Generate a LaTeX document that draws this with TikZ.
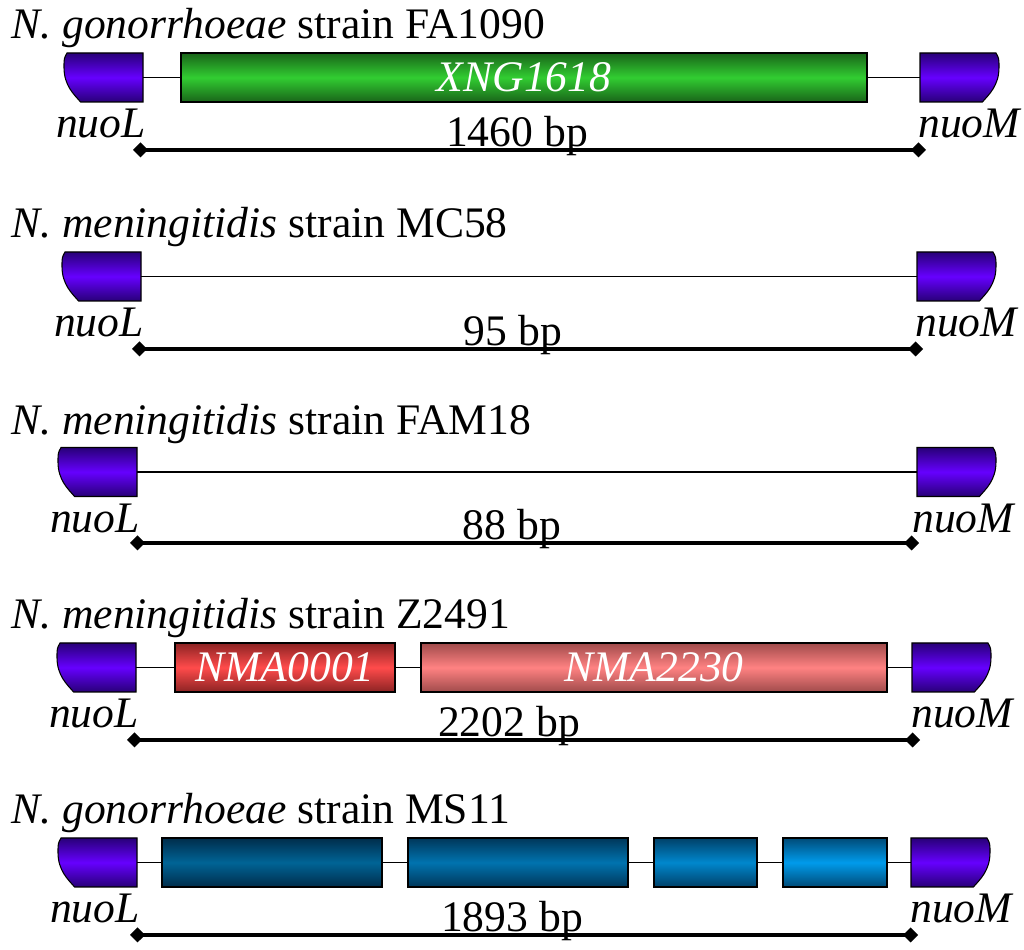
\documentclass[tikz,border=0pt]{standalone}
\usepackage{fontspec}
\setmainfont{Liberation Serif}
\usetikzlibrary{arrows.meta}

\definecolor{nuodark}{RGB}{40,0,120}
\definecolor{nuolight}{RGB}{102,0,255}
\definecolor{xngdark}{RGB}{25,100,25}
\definecolor{xnglight}{RGB}{50,205,50}
\definecolor{nmaAdark}{RGB}{140,35,35}
\definecolor{nmaAlight}{RGB}{255,75,75}
\definecolor{nmaBdark}{RGB}{160,75,75}
\definecolor{nmaBlight}{RGB}{255,130,130}
\definecolor{msAdark}{RGB}{0,45,75}
\definecolor{msAlight}{RGB}{0,100,150}
\definecolor{msBdark}{RGB}{0,55,90}
\definecolor{msBlight}{RGB}{0,115,175}
\definecolor{msCdark}{RGB}{0,65,105}
\definecolor{msClight}{RGB}{0,135,205}
\definecolor{msDdark}{RGB}{0,75,120}
\definecolor{msDlight}{RGB}{0,155,235}

\tikzset{
  txt/.style={font=\fontsize{24.8}{29}\selectfont, inner sep=0pt},
  strain/.style={txt, anchor=base west},
  locus/.style={txt, font=\fontsize{24.8}{29}\selectfont\itshape},
  bplabel/.style={txt, anchor=base},
  gene/.style={draw=black, line width=0.8pt, minimum height=0.98cm, inner sep=0pt,
    text=white, font=\fontsize{24.8}{29}\selectfont\itshape},
  shadeit/.style n args={2}{top color=#1, bottom color=#1, middle color=#2},
  link/.style={line width=0.8pt},
  span/.style={line width=2.2pt,
    {Diamond[length=0.3cm,width=0.3cm]}-{Diamond[length=0.3cm,width=0.3cm]}},
}

% nuoL: name, x of right edge, y of middle
\newcommand{\nuoLgene}[3]{%
  \shadedraw[shadeit={nuodark}{nuolight}, line width=0.6pt]
    (#2-6.24,#3-2.45) .. controls (#2-6.9,#3-1.7) and (#2-7.9,#3-0.8) .. (#2-7.9,#3+1.0)
    .. controls (#2-7.9,#3+1.9) .. (#2-7.6,#3+2.45) -- (#2,#3+2.45) -- (#2,#3-2.45) -- cycle;
  \coordinate (#1) at (#2,#3);}
% nuoM: name, x of left edge, y of middle
\newcommand{\nuoMgene}[3]{%
  \shadedraw[shadeit={nuodark}{nuolight}, line width=0.6pt]
    (#2+6.24,#3-2.45) .. controls (#2+6.9,#3-1.7) and (#2+7.9,#3-0.8) .. (#2+7.9,#3+1.0)
    .. controls (#2+7.9,#3+1.9) .. (#2+7.6,#3+2.45) -- (#2,#3+2.45) -- (#2,#3-2.45) -- cycle;
  \coordinate (#1) at (#2,#3);}

\begin{document}
\begin{tikzpicture}[x=0.2cm,y=0.2cm]
\fill [white] (0,0) rectangle (102.4,-95);
\useasboundingbox (0,0) rectangle (102.4,-95);
% FA1090
\node [strain] (t1) at (1.1,-3.9) {\textit{N. gonorrhoeae} strain FA1090};
\nuoLgene{L1}{14.3}{-7.75}
\nuoMgene{M1}{92.0}{-7.75}
\node [gene, shadeit={xngdark}{xnglight}, minimum width=13.72cm] (xng) at (52.4,-7.75) {XNG1618};
\draw [link] (L1) -- (xng);
\draw [link] (xng) -- (M1);
\node [locus, anchor=base east] (l1) at (14.6,-13.8) {nuoL};
\node [locus, anchor=base west] (m1) at (91.8,-13.8) {nuoM};
\coordinate (s1a) at (13.3,-15.0);
\coordinate (s1b) at (92.6,-15.0);
\draw [span] (s1a) -- (s1b);
\node [bplabel] (bp1) at (51.7,-14.7) {1460 bp};
% MC58
\node [strain] (t2) at (1.1,-23.8) {\textit{N. meningitidis} strain MC58};
\nuoLgene{L2}{14.1}{-27.65}
\nuoMgene{M2}{91.7}{-27.65}
\draw [link] (L2) -- (M2);
\node [locus, anchor=base east] (l2) at (14.4,-33.7) {nuoL};
\node [locus, anchor=base west] (m2) at (91.5,-33.7) {nuoM};
\coordinate (s2a) at (13.2,-34.9);
\coordinate (s2b) at (92.3,-34.9);
\draw [span] (s2a) -- (s2b);
\node [bplabel] (bp2) at (51.3,-34.6) {95 bp};
% FAM18
\node [strain] (t3) at (1.1,-43.5) {\textit{N. meningitidis} strain FAM18};
\nuoLgene{L3}{13.7}{-47.2}
\nuoMgene{M3}{91.7}{-47.2}
\draw [link] (L3) -- (M3);
\node [locus, anchor=base east] (l3) at (14.0,-53.3) {nuoL};
\node [locus, anchor=base west] (m3) at (91.2,-53.3) {nuoM};
\coordinate (s3a) at (13.0,-54.3);
\coordinate (s3b) at (91.9,-54.3);
\draw [span] (s3a) -- (s3b);
\node [bplabel] (bp3) at (51.2,-54.0) {88 bp};
% Z2491
\node [strain] (t4) at (1.1,-62.9) {\textit{N. meningitidis} strain Z2491};
\nuoLgene{L4}{13.6}{-66.75}
\nuoMgene{M4}{91.2}{-66.75}
\node [gene, shadeit={nmaAdark}{nmaAlight}, minimum width=4.4cm] (nmaA) at (28.5,-66.75) {NMA0001};
\node [gene, shadeit={nmaBdark}{nmaBlight}, minimum width=9.32cm] (nmaB) at (65.4,-66.75) {NMA2230};
\draw [link] (L4) -- (nmaA);
\draw [link] (nmaA) -- (nmaB);
\draw [link] (nmaB) -- (M4);
\node [locus, anchor=base east] (l4) at (13.9,-72.8) {nuoL};
\node [locus, anchor=base west] (m4) at (91.1,-72.8) {nuoM};
\coordinate (s4a) at (12.7,-74.0);
\coordinate (s4b) at (92.0,-74.0);
\draw [span] (s4a) -- (s4b);
\node [bplabel] (bp4) at (50.9,-73.7) {2202 bp};
% MS11
\node [strain] (t5) at (1.1,-82.4) {\textit{N. gonorrhoeae} strain MS11};
\nuoLgene{L5}{13.7}{-86.25}
\nuoMgene{M5}{91.1}{-86.25}
\node [gene, shadeit={msAdark}{msAlight}, minimum width=4.4cm] (msA) at (27.2,-86.25) {};
\node [gene, shadeit={msBdark}{msBlight}, minimum width=4.4cm] (msB) at (51.8,-86.25) {};
\node [gene, shadeit={msCdark}{msClight}, minimum width=2.06cm] (msC) at (70.55,-86.25) {};
\node [gene, shadeit={msDdark}{msDlight}, minimum width=2.08cm] (msD) at (83.5,-86.25) {};
\draw [link] (L5) -- (msA);
\draw [link] (msA) -- (msB);
\draw [link] (msB) -- (msC);
\draw [link] (msC) -- (msD);
\draw [link] (msD) -- (M5);
\node [locus, anchor=base east] (l5) at (14.0,-92.3) {nuoL};
\node [locus, anchor=base west] (m5) at (91.0,-92.3) {nuoM};
\coordinate (s5a) at (13.0,-93.5);
\coordinate (s5b) at (91.8,-93.5);
\draw [span] (s5a) -- (s5b);
\node [bplabel] (bp5) at (51.2,-93.2) {1893 bp};
\end{tikzpicture}
\end{document}
